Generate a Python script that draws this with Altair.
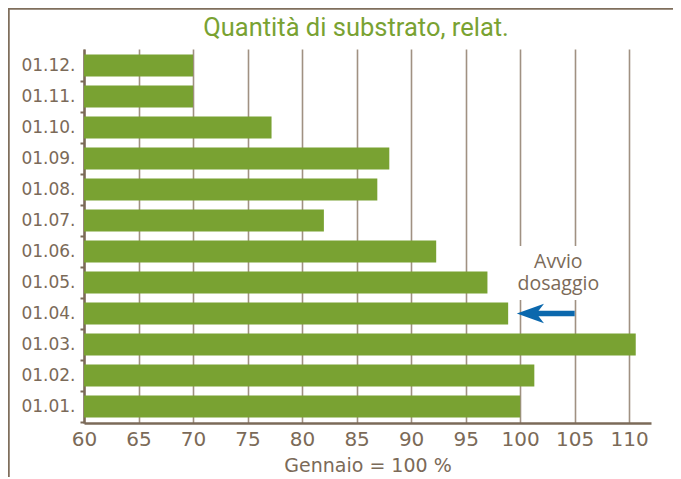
import altair as alt
import pandas as pd

# Data
months = ["01.12.", "01.11.", "01.10.", "01.09.", "01.08.", "01.07.",
          "01.06.", "01.05.", "01.04.", "01.03.", "01.02.", "01.01."]
values = [70.0, 70.0, 77.2, 88.0, 86.9, 82.0, 92.3, 97.0, 98.9, 110.6, 101.3, 100.0]
x_ticks = [60, 65, 70, 75, 80, 85, 90, 95, 100, 105, 110]

title_text = "Quantità di substrato, relat."
annot_text = ["Avvio", "dosaggio"]
annot_x = 103.5
annot_row = "01.05."
arrow_row = "01.04."
arrow_tip = 99.7
arrow_tail = 105.0

GREEN = "#79a232"
BROWN = "#7b6a58"
GRID = "#a09182"
FRAME = "#7f6e5c"
BLUE = "#0b68ad"
FONT = "Open Sans"
AXFONT = "DejaVu Sans"
TFONT = "Roboto"

df = pd.DataFrame({"mese": months, "valore": values})

W, H = 567, 374
PAD_L, PAD_T, PAD_R, PAD_B = 76, 41, 22, 54

y_enc = alt.Y("mese:N", sort=months,
              scale=alt.Scale(paddingInner=0.29, paddingOuter=0.18),
              axis=alt.Axis(title=None, grid=False, domain=True, domainColor=BROWN,
                            domainWidth=2.5, ticks=True, tickColor=BROWN, tickWidth=2,
                            tickSize=4, tickOffset=15.5, labelOffset=-15.5,
                            labelFont=AXFONT, labelFontSize=17, labelColor=BROWN,
                            labelPadding=5))

x_scale = alt.Scale(domain=[60, 112], zero=False, nice=False)

bars = alt.Chart(df).mark_bar(color=GREEN).encode(
    x=alt.X("valore:Q", scale=x_scale,
            axis=alt.Axis(values=x_ticks, grid=True, gridColor=GRID, gridWidth=1.6,
                          ticks=False, domain=True, domainColor=BROWN, domainWidth=2.5,
                          labelFont=AXFONT, labelFontSize=20, labelColor=BROWN,
                          labelFlush=False, labelOverlap=False,
                          labelPadding=6, title="Gennaio = 100 %", titleFont=AXFONT,
                          titleFontSize=19, titleFontWeight="normal", titleColor=BROWN,
                          titlePadding=7)),
    x2=alt.datum(60),
    y=y_enc,
)

# white background behind annotation (interrupts grid lines)
box = alt.Chart(pd.DataFrame({"a": [0]})).mark_rect(color="white").encode(
    x=alt.value(505 - 84), x2=alt.value(603 - 84),
    y=alt.value(246 - 49), y2=alt.value(300 - 49),
)

annot = alt.Chart(pd.DataFrame({"t": [annot_text], "x": [annot_x], "mese": [annot_row]})).mark_text(
    font=FONT, fontSize=19.5, color=BROWN, lineHeight=22, baseline="middle", dy=-20
).encode(x=alt.X("x:Q", scale=x_scale), y=alt.Y("mese:N", sort=months), text="t")

shaft = alt.Chart(pd.DataFrame({"x": [arrow_tip + 1.0], "x2": [arrow_tail], "mese": [arrow_row]})).mark_rule(
    color=BLUE, strokeWidth=5.5
).encode(x=alt.X("x:Q", scale=x_scale), x2="x2:Q", y=alt.Y("mese:N", sort=months))

head = alt.Chart(pd.DataFrame({"x": [arrow_tip], "mese": [arrow_row]})).mark_point(
    shape="M -1 0 L 1 -0.72 L 0.45 0 L 1 0.72 Z", size=740, filled=True, color=BLUE,
    opacity=1, xOffset=13.5
).encode(x=alt.X("x:Q", scale=x_scale), y=alt.Y("mese:N", sort=months))

title = alt.Chart(pd.DataFrame({"t": [title_text]})).mark_text(
    font=TFONT, fontSize=25.5, color=GREEN, align="center", baseline="alphabetic"
).encode(x=alt.value(356 - 84), y=alt.value(36 - 49), text="t")

frame_top = alt.Chart(pd.DataFrame({"a": [0]})).mark_rule(color=FRAME, strokeWidth=2.5).encode(
    x=alt.value(-76), x2=alt.value(700), y=alt.value(-40.5))
frame_left = alt.Chart(pd.DataFrame({"a": [0]})).mark_rule(color=FRAME, strokeWidth=2.5).encode(
    x=alt.value(-75.5), y=alt.value(-41.5), y2=alt.value(600))

chart = alt.layer(bars, box, annot, shaft, head, title, frame_top, frame_left).properties(
    width=W, height=H,
    autosize=alt.AutoSizeParams(type="none"),
    padding={"left": PAD_L, "top": PAD_T, "right": PAD_R, "bottom": PAD_B},
).configure_view(stroke=None)

chart.save("out.html", embed_options={"renderer": "svg", "actions": False})
